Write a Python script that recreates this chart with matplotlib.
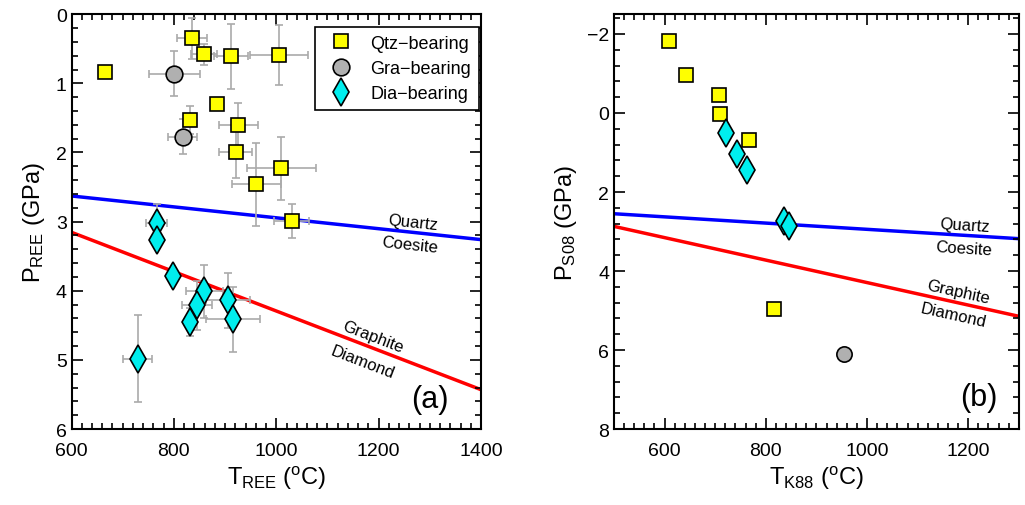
import numpy as np
from matplotlib import pyplot as plt
from matplotlib.ticker import MultipleLocator

plt.rcParams.update(
    {
        "font.family": ["Liberation Sans", "DejaVu Sans"],
        "font.size": 14,
        "mathtext.default": "regular",
        "axes.linewidth": 1.5,
    }
)

# ---- panel (a): REE thermobarometry ----
qtz_T_a = [665, 835, 859, 912, 1005, 885, 831, 926, 921, 1010, 961, 1030]
qtz_P_a = [0.84, 0.35, 0.58, 0.61, 0.59, 1.30, 1.53, 1.60, 1.99, 2.23, 2.46, 2.99]
qtz_Terr_a = [0, 29, 26, 33, 57, 0, 0, 38, 32, 67, 48, 34]
qtz_Perr_a = [0, 0.30, 0.15, 0.47, 0.44, 0, 0.20, 0.32, 0.38, 0.45, 0.60, 0.25]

gra_T_a = [801, 817]
gra_P_a = [0.86, 1.77]
gra_Terr_a = [49, 29]
gra_Perr_a = [0.33, 0.25]

dia_T_a = [766, 766, 799, 859, 845, 831, 905, 916, 729]
dia_P_a = [3.02, 3.26, 3.79, 4.01, 4.21, 4.45, 4.14, 4.41, 4.98]
dia_Terr_a = [20, 0, 0, 36, 30, 0, 43, 53, 28]
dia_Perr_a = [0.27, 0, 0, 0.38, 0.35, 0.20, 0.40, 0.47, 0.63]

# ---- panel (b): K88 / S08 ----
qtz_T_b = [609, 643, 707, 710, 766, 816]
qtz_P_b = [-1.82, -0.97, -0.45, 0.03, 0.69, 4.96]
gra_T_b = [954]
gra_P_b = [6.10]
dia_T_b = [722, 744, 763, 835, 846]
dia_P_b = [0.51, 1.03, 1.45, 2.73, 2.86]

# phase boundaries (T in C, P in GPa)
qc_T = [500, 1400]
qc_P = [2.55, 3.26]
gd_T = [500, 1400]
gd_P = [2.87, 5.43]

yellow = "#ffff00"
grey = "#b0b0b0"
cyan = "#00eeee"
errc = "#aaaaaa"

fig = plt.figure(figsize=(10.25, 5.06), dpi=100)
axa = fig.add_axes([0.0698, 0.150, 0.3995, 0.820])
axb = fig.add_axes([0.599, 0.150, 0.395, 0.820])


def style(ax, xmaj, xmin, ymaj, ymin):
    ax.xaxis.set_major_locator(MultipleLocator(xmaj))
    ax.xaxis.set_minor_locator(MultipleLocator(xmin))
    ax.yaxis.set_major_locator(MultipleLocator(ymaj))
    ax.yaxis.set_minor_locator(MultipleLocator(ymin))
    ax.tick_params(which="both", direction="in", top=True, right=True, width=1.2)
    ax.tick_params(which="major", length=8, labelsize=14)
    ax.tick_params(axis="x", which="major", pad=9)
    ax.tick_params(which="minor", length=4)


def err(ax, T, P, Terr, Perr):
    ax.errorbar(T, P, xerr=Terr, yerr=Perr, fmt="none", ecolor=errc,
                elinewidth=1.2, capsize=3, capthick=1.2, zorder=2)


# ---------- (a) ----------
ax = axa
ax.plot(qc_T, qc_P, color="#0000ff", lw=2.5, zorder=1.5)
ax.plot(gd_T, gd_P, color="#ff0000", lw=2.5, zorder=1.5)
err(ax, qtz_T_a, qtz_P_a, qtz_Terr_a, qtz_Perr_a)
err(ax, gra_T_a, gra_P_a, gra_Terr_a, gra_Perr_a)
err(ax, dia_T_a, dia_P_a, dia_Terr_a, dia_Perr_a)
ax.plot(qtz_T_a, qtz_P_a, "s", ms=10, mfc=yellow, mec="black", mew=1.2,
        ls="none", zorder=3, label="Qtz\u2212bearing")
ax.plot(gra_T_a, gra_P_a, "o", ms=12, mfc=grey, mec="black", mew=1.2,
        ls="none", zorder=3, label="Gra\u2212bearing")
ax.plot(dia_T_a, dia_P_a, "d", ms=14, mfc=cyan, mec="black", mew=1.2,
        ls="none", zorder=3, label="Dia\u2212bearing")
ax.set_xlim(600, 1400)
ax.set_ylim(6, 0)
style(ax, 200, 20, 1, 0.2)
ax.set_xlabel(r"T$_{REE}$ ($^{o}$C)", fontsize=17, labelpad=4)
ax.set_ylabel(r"P$_{REE}$ (GPa)", fontsize=17, labelpad=6)
ax.text(1267, 3.01, "Quartz", rotation=-6, ha="center", va="center", fontsize=12)
ax.text(1261, 3.33, "Coesite", rotation=-6, ha="center", va="center", fontsize=12)
ax.text(1189, 4.66, "Graphite", rotation=-21, ha="center", va="center", fontsize=12)
ax.text(1169, 5.03, "Diamond", rotation=-21, ha="center", va="center", fontsize=12)
ax.text(0.875, 0.072, "(a)", transform=ax.transAxes, ha="center", va="center", fontsize=22)
leg = ax.legend(loc="upper right", bbox_to_anchor=(0.995, 0.97), borderaxespad=0,
                fontsize=13, fancybox=False, edgecolor="black", framealpha=1,
                handletextpad=0.6, labelspacing=0.45, borderpad=0.45, numpoints=1)
leg.get_frame().set_linewidth(1.2)

# ---------- (b) ----------
ax = axb
ax.plot(qc_T, qc_P, color="#0000ff", lw=2.5, zorder=1.5)
ax.plot(gd_T, gd_P, color="#ff0000", lw=2.5, zorder=1.5)
ax.plot(qtz_T_b, qtz_P_b, "s", ms=10, mfc=yellow, mec="black", mew=1.2, ls="none", zorder=3)
ax.plot(gra_T_b, gra_P_b, "o", ms=11, mfc=grey, mec="black", mew=1.2, ls="none", zorder=3)
ax.plot(dia_T_b, dia_P_b, "d", ms=14, mfc=cyan, mec="black", mew=1.2, ls="none", zorder=3)
ax.set_xlim(500, 1300)
ax.set_ylim(8, -2.5)
style(ax, 200, 20, 2, 0.4)
ax.set_xlabel(r"T$_{K88}$ ($^{o}$C)", fontsize=17, labelpad=4)
ax.set_ylabel(r"P$_{S08}$ (GPa)", fontsize=17, labelpad=6)
ax.text(1194, 2.84, "Quartz", rotation=-3.5, ha="center", va="center", fontsize=12)
ax.text(1190, 3.42, "Coesite", rotation=-3.5, ha="center", va="center", fontsize=12)
ax.text(1180, 4.52, "Graphite", rotation=-12.5, ha="center", va="center", fontsize=12)
ax.text(1170, 5.12, "Diamond", rotation=-12.5, ha="center", va="center", fontsize=12)
ax.text(0.90, 0.077, "(b)", transform=ax.transAxes, ha="center", va="center", fontsize=22)

fig.savefig("out.png", dpi=100)
